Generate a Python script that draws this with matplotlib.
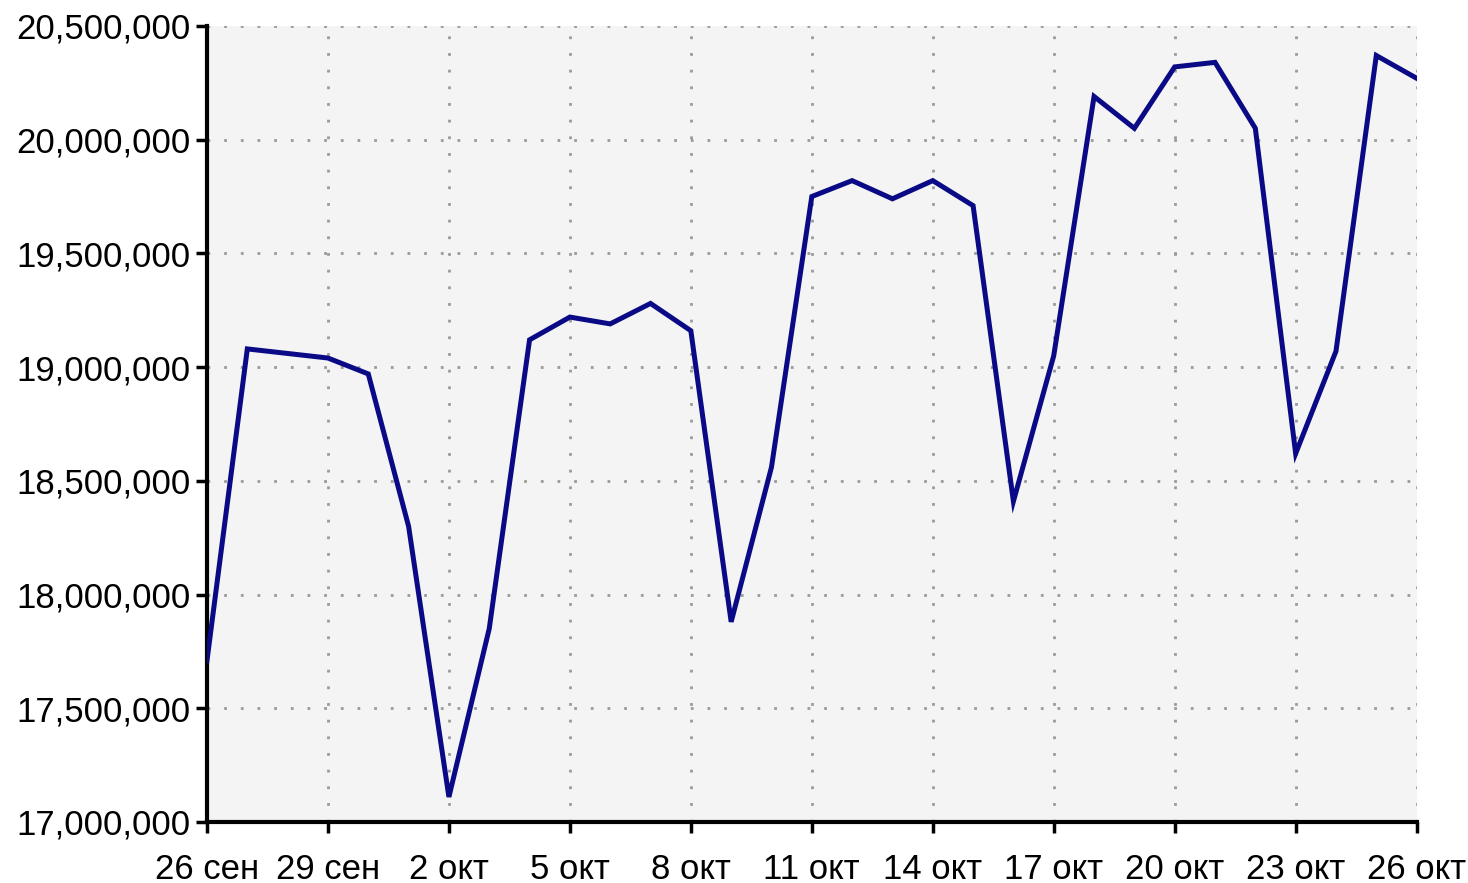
import numpy as np
import pandas as pd
import matplotlib
matplotlib.use("Agg")
import matplotlib.pyplot as plt
from matplotlib.ticker import FuncFormatter

plt.rcParams['font.family'] = ['Liberation Sans', 'DejaVu Sans']

# daily values, 26 Sep .. 26 Oct
dates = pd.date_range("2023-09-26", "2023-10-26", freq="D")
values = [
    17.71, 19.08, 19.06, 19.04, 18.97, 18.30, 17.11, 17.85, 19.12, 19.22,
    19.19, 19.28, 19.16, 17.88, 18.56, 19.75, 19.82, 19.74, 19.82, 19.71,
    18.41, 19.05, 20.19, 20.05, 20.32, 20.34, 20.05, 18.62, 19.07, 20.37,
    20.27,
]
values = np.array(values) * 1e6

tick_dates = pd.date_range("2023-09-26", "2023-10-26", freq="3D")
tick_labels = ["26 сен", "29 сен", "2 окт", "5 окт", "8 окт", "11 окт",
               "14 окт", "17 окт", "20 окт", "23 окт", "26 окт"]
y_ticks = np.arange(17_000_000, 20_500_001, 500_000)

fig = plt.figure(figsize=(14.68, 8.83), dpi=100)
ax = fig.add_axes([0.141, 0.0691, 0.824, 0.9015])
ax.set_facecolor("#f4f4f4")

ax.plot(dates, values, color="#0a0a86", lw=3.6, solid_joinstyle="miter", zorder=3)

ax.set_xlim(dates[0], dates[-1])
ax.set_ylim(17_000_000, 20_500_000)
ax.set_xticks(tick_dates)
ax.set_xticklabels(tick_labels)
ax.set_yticks(y_ticks)
ax.yaxis.set_major_formatter(FuncFormatter(lambda v, p: f"{int(v):,}"))

ax.grid(True, color="#9a9a9a", linestyle=(0, (1, 5)), linewidth=2, zorder=1)
for s in ("top", "right"):
    ax.spines[s].set_visible(False)
for s in ("left", "bottom"):
    ax.spines[s].set_linewidth(3)
    ax.spines[s].set_color("black")
ax.tick_params(axis="both", direction="out", length=8, width=2.5,
               labelsize=25, colors="black")
ax.tick_params(axis="x", pad=14)
ax.tick_params(axis="y", pad=4)

fig.savefig("out.png", dpi=100, facecolor="white")
